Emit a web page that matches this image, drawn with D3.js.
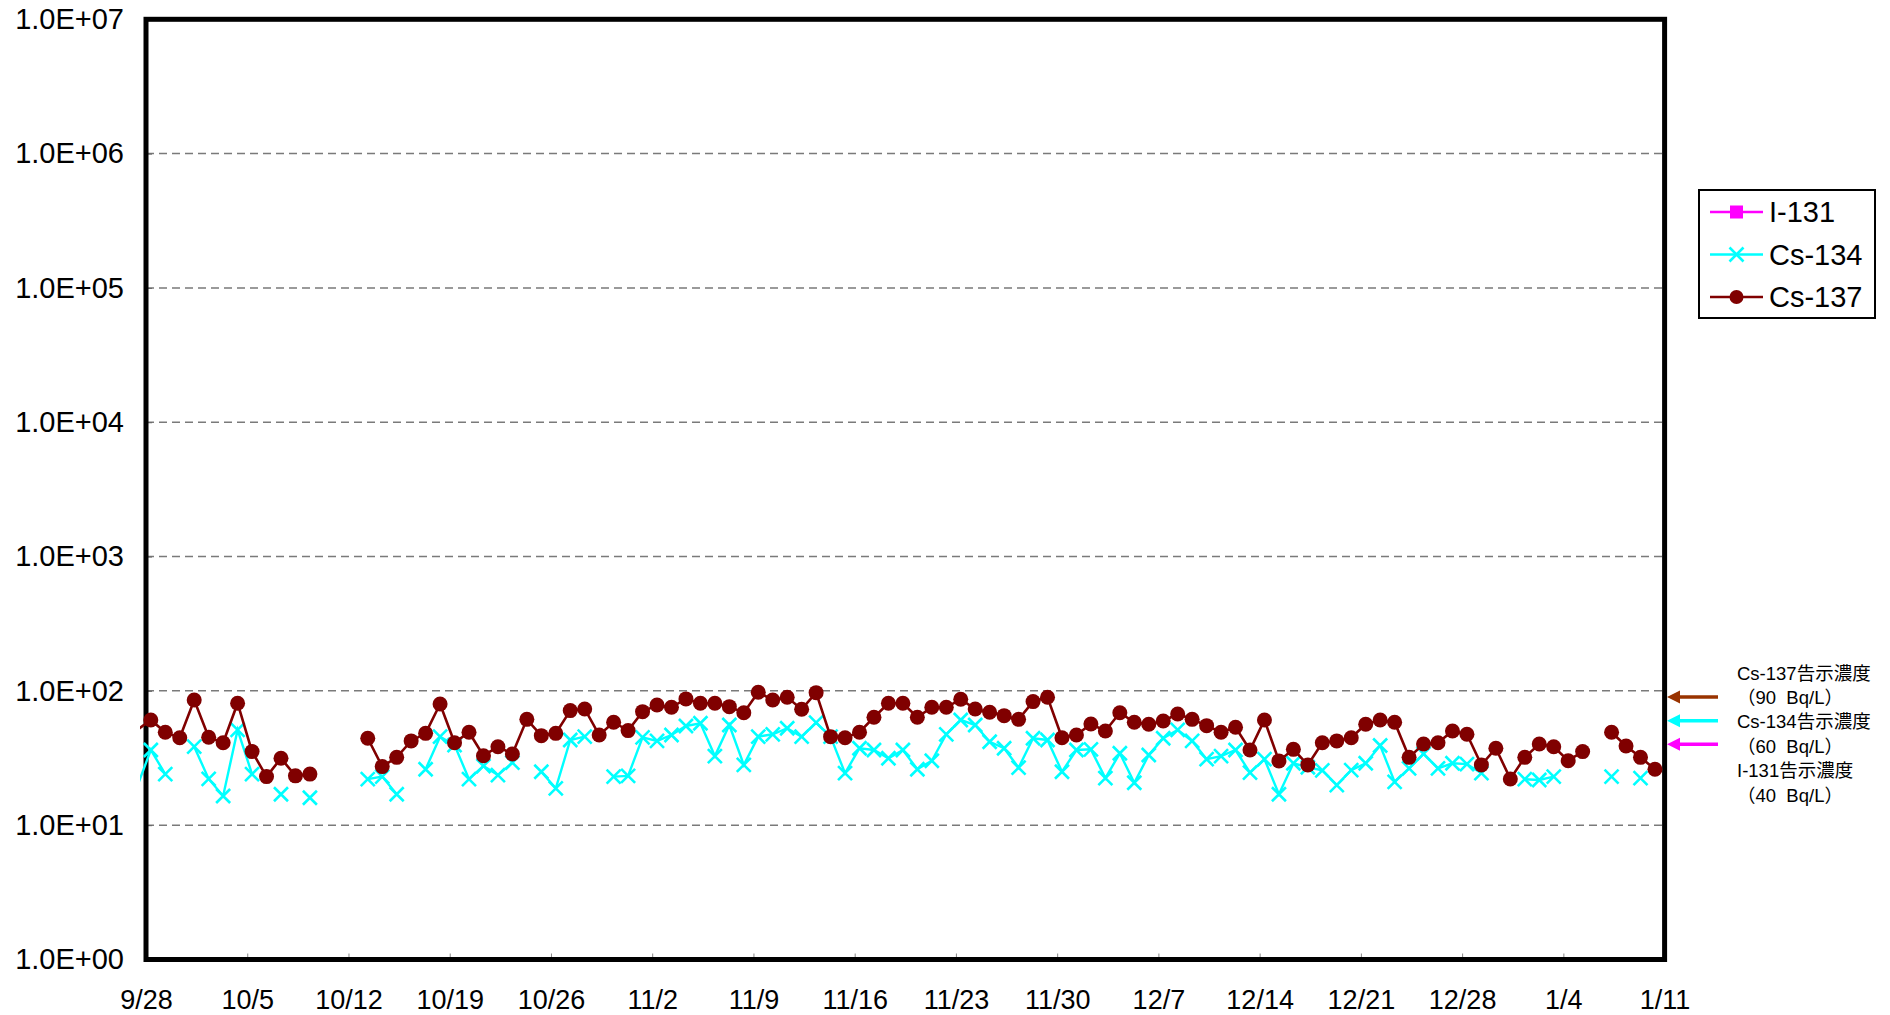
<!DOCTYPE html>
<html lang="ja">
<head>
<meta charset="utf-8">
<title>放射能濃度</title>
<script src="https://d3js.org/d3.v7.min.js"></script>
<style>
  body { margin: 0; background: #fff; }
  svg { display: block; font-family: "Liberation Sans", Arial, "Noto Sans CJK JP", sans-serif; }
</style>
</head>
<body>
<svg id="chart" width="1890" height="1015"></svg>
<script>
// first sample is the day before the axis starts (its line is cut at the frame)
var firstDay = "2013-09-27",
    sampleHour = 8;

var cs134 = [18.7,
  36.3, 24.0, null, 38.4, 22.1, 16.5, 51.2, 24.0, null, 17.0, null, 16.0, null, null,
  null, 22.0, 23.0, 17.0, null, 26.1, 45.6, 39.5, 22.0, 27.6, 23.6, 29.2, null, 25.0,
  18.8, 43.1, 45.6, null, 23.0, 23.3, 45.0, 42.4, 46.9, 54.8, 57.4, 32.7, 55.7, 28.1,
  45.6, 47.5, 52.7, 45.6, 58.0, 45.6, 24.4, 37.4, 36.3, 31.5, 36.3, 26.1, 30.2, 47.5,
  60.7, 55.7, 41.8, 37.4, 26.8, 44.4, 43.1, 25.0, 36.3, 36.7, 22.4, 34.3, 20.7, 33.3,
  44.4, 51.2, 42.4, 31.0, 32.7, 36.3, 24.6, 31.0, 17.0, 28.9, 27.0, 25.6, 19.9, 25.7,
  28.9, 39.2, 21.0, 26.5, 34.0, 26.5, 28.9, 28.5, 24.4, null, null, 22.0, 21.7, 23.0,
  null, null, null, 23.0, null, 22.4, null];

var cs137 = [50.7,
  60.7, 49.2, 44.8, 85.5, 45.1, 41.1, 80.9, 35.3, 23.0, 31.5, 23.3, 24.0, null, null,
  null, 44.4, 27.3, 32.0, 42.4, 48.3, 79.9, 41.1, 49.2, 32.9, 38.4, 33.9, 61.4, 46.4,
  48.3, 71.3, 73.3, 46.9, 58.4, 50.6, 70.0, 78.5, 75.5, 87.1, 80.9, 80.9, 76.3, 68.8,
  97.7, 85.5, 89.6, 72.9, 97.0, 45.6, 44.8, 49.2, 63.6, 80.9, 80.9, 63.6, 75.5, 75.5,
  86.6, 73.3, 69.3, 65.4, 61.4, 83.2, 89.6, 44.8, 46.9, 56.7, 50.3, 68.8, 58.4, 56.4,
  59.7, 67.3, 61.4, 55.1, 49.2, 53.6, 36.3, 60.7, 30.1, 36.7, 28.1, 41.1, 42.4, 44.8,
  56.4, 60.7, 58.4, 32.0, 40.2, 41.1, 50.3, 47.5, 28.1, 37.4, 22.1, 32.0, 40.2, 38.4,
  30.2, 35.3, null, 49.2, 38.9, 32.0, 26.1];

var i131 = []; // 不検出

var xTickLabels = ["9/28", "10/5", "10/12", "10/19", "10/26", "11/2", "11/9", "11/16",
                   "11/23", "11/30", "12/7", "12/14", "12/21", "12/28", "1/4", "1/11"];
var yTickValues = [1, 10, 100, 1000, 10000, 100000, 1000000, 10000000];

var legendNames = ["I-131", "Cs-134", "Cs-137"];
var limitValues = [90, 60, 40];
var limitNames = ["Cs-137", "Cs-134", "I-131"];

var colors = { "I-131": "#ff00ff", "Cs-134": "#00ffff", "Cs-137": "#800000" };
var arrowColors = ["#993300", "#00ffff", "#ff00ff"];

function draw() {
  var svg = d3.select("#chart");
  var plotLeft = 146, plotRight = 1664.6, plotTop = 19.3, plotBottom = 959.5;

  function labelDate(s) {
    var p = s.split("/");
    var yr = +p[0] >= 9 ? 2013 : 2014;
    return new Date(yr, +p[0] - 1, +p[1]);
  }
  var xTicks = xTickLabels.map(labelDate);

  var x = d3.scaleTime()
      .domain([xTicks[0], xTicks[xTicks.length - 1]])
      .range([plotLeft, plotRight]);
  var y = d3.scaleLog()
      .domain([1, 1e7])
      .range([plotBottom, plotTop]);

  var day0 = d3.timeParse("%Y-%m-%d")(firstDay);
  function rows(vals) {
    return vals.map(function(v, i) {
      return { t: d3.timeHour.offset(d3.timeDay.offset(day0, i), sampleHour), v: v };
    });
  }
  var series = [
    { name: "Cs-134", data: rows(cs134) },
    { name: "Cs-137", data: rows(cs137) }
  ];

  // grid
  svg.append("g")
    .selectAll("line")
    .data(yTickValues.slice(1, -1))
    .join("line")
      .attr("x1", plotLeft).attr("x2", plotRight)
      .attr("y1", d => y(d)).attr("y2", d => y(d))
      .attr("stroke", "#7a7a7a")
      .attr("stroke-width", 1.5)
      .attr("stroke-dasharray", "8,5");

  // y axis
  var yAxis = d3.axisLeft(y)
      .tickValues(yTickValues)
      .tickFormat(d => "1.0E+" + d3.format("02d")(Math.round(Math.log10(d))))
      .tickSize(-6)
      .tickPadding(22);
  svg.append("g")
      .attr("transform", "translate(" + plotLeft + ",0)")
      .call(yAxis)
      .call(g => g.select(".domain").remove())
      .call(g => g.selectAll("line").attr("stroke", "#666"))
      .call(g => g.selectAll("text").attr("font-size", 29).attr("fill", "#000")
        .attr("font-family", "Liberation Sans, Arial, sans-serif"));

  // x axis
  var xAxis = d3.axisBottom(x)
      .tickValues(xTicks)
      .tickFormat((d, i) => xTickLabels[i])
      .tickSize(-6)
      .tickPadding(30);
  svg.append("g")
      .attr("transform", "translate(0," + plotBottom + ")")
      .call(xAxis)
      .call(g => g.select(".domain").remove())
      .call(g => g.selectAll("line").attr("stroke", "#888"))
      .call(g => g.selectAll("text").attr("font-size", 27).attr("fill", "#000")
        .attr("font-family", "Liberation Sans, Arial, sans-serif"));

  // frame
  svg.append("rect")
      .attr("x", plotLeft).attr("y", plotTop)
      .attr("width", plotRight - plotLeft).attr("height", plotBottom - plotTop)
      .attr("fill", "none")
      .attr("stroke", "#000")
      .attr("stroke-width", 5);

  svg.append("clipPath").attr("id", "clip")
    .append("rect")
      .attr("x", plotLeft - 6).attr("y", plotTop)
      .attr("width", plotRight - plotLeft + 6).attr("height", plotBottom - plotTop);

  var line = d3.line()
      .defined(d => d.v != null)
      .x(d => x(d.t))
      .y(d => y(d.v));

  var plot = svg.append("g");

  series.forEach(function(s) {
    plot.append("path")
        .datum(s.data)
        .attr("clip-path", "url(#clip)")
        .attr("fill", "none")
        .attr("stroke", colors[s.name])
        .attr("stroke-width", s.name === "Cs-137" ? 2.6 : 2.4)
        .attr("d", line);

    var pts = s.data.filter(d => d.v != null && d.t >= x.domain()[0]);
    if (s.name === "Cs-137") {
      plot.append("g").selectAll("circle")
        .data(pts).join("circle")
          .attr("cx", d => x(d.t)).attr("cy", d => y(d.v))
          .attr("r", 7.5)
          .attr("fill", colors[s.name]);
    } else {
      plot.append("g").selectAll("path")
        .data(pts).join("path")
          .attr("transform", d => "translate(" + x(d.t) + "," + y(d.v) + ")")
          .attr("d", "M-7,-7L7,7M-7,7L7,-7")
          .attr("stroke", colors[s.name])
          .attr("stroke-width", 2.6)
          .attr("fill", "none");
    }
  });

  // legend
  var lg = svg.append("g").attr("transform", "translate(1699,190)");
  lg.append("rect")
      .attr("width", 176).attr("height", 128)
      .attr("fill", "#fff").attr("stroke", "#000").attr("stroke-width", 2);
  legendNames.forEach(function(n, i) {
    var cy = 22 + i * 42.5, c = colors[n];
    var g = lg.append("g").attr("transform", "translate(0," + cy + ")");
    g.append("line").attr("x1", 11).attr("x2", 64)
      .attr("stroke", c).attr("stroke-width", 2.4);
    if (n === "I-131") {
      g.append("rect").attr("x", 31).attr("y", -6.5).attr("width", 13).attr("height", 13).attr("fill", c);
    } else if (n === "Cs-134") {
      g.append("path").attr("transform", "translate(37.5,0)")
        .attr("d", "M-7,-7L7,7M-7,7L7,-7").attr("stroke", c).attr("stroke-width", 2.6);
    } else {
      g.append("circle").attr("cx", 37.5).attr("r", 7).attr("fill", c);
    }
    g.append("text").attr("x", 70).attr("dy", "0.36em")
      .attr("font-size", 29).text(n);
  });

  // notification limits
  var notes = svg.append("g");
  limitValues.forEach(function(v, i) {
    var yy = y(v);
    notes.append("line")
      .attr("x1", 1678).attr("x2", 1718).attr("y1", yy).attr("y2", yy)
      .attr("stroke", arrowColors[i]).attr("stroke-width", 3.5);
    notes.append("path")
      .attr("d", "M1667," + yy + "L1680," + (yy - 6.5) + "L1680," + (yy + 6.5) + "Z")
      .attr("fill", arrowColors[i]);
  });
  var noteLines = [];
  limitNames.forEach(function(n, i) {
    noteLines.push(n + "告示濃度");
    noteLines.push("（" + limitValues[i] + "  Bq/L）");
  });
  notes.selectAll("text")
    .data(noteLines).join("text")
      .attr("x", 1737)
      .attr("y", (d, i) => 673 + i * 24.4)
      .attr("dy", "0.36em")
      .attr("font-size", 18.5)
      .attr("font-family", "Liberation Sans, Arial, Noto Sans CJK JP, sans-serif")
      .attr("xml:space", "preserve")
      .style("white-space", "pre")
      .text(d => d);
}
draw();
</script>
</body>
</html>
